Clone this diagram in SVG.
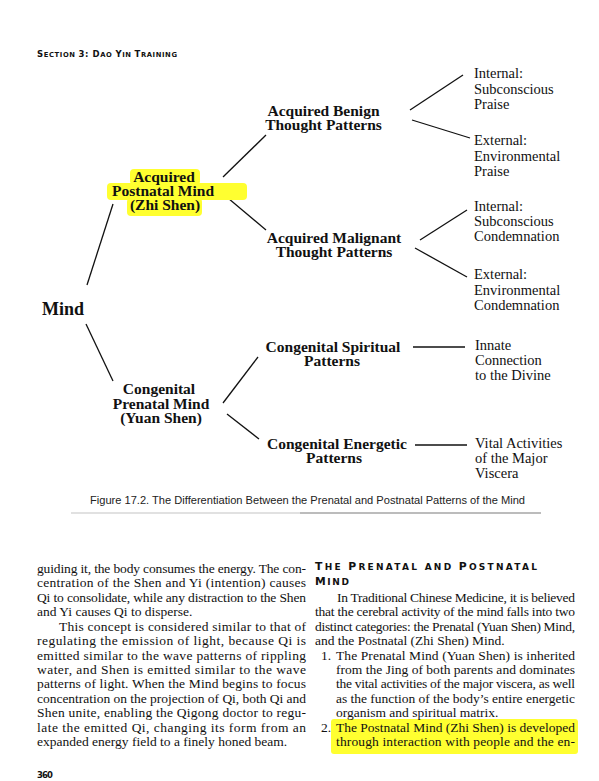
<svg xmlns="http://www.w3.org/2000/svg" width="599" height="781" viewBox="0 0 599 781">
<style>
.b{font-family:"Liberation Serif",serif;font-weight:bold;font-size:15.5px;fill:#111;text-anchor:middle}
.r{font-family:"Liberation Serif",serif;font-size:14.5px;fill:#111}
.t{font-family:"Liberation Serif",serif;font-size:13.5px;fill:#111}
.sc{font-family:"DejaVu Sans","Liberation Sans",sans-serif;font-weight:bold;fill:#111}
.cap{font-family:"Liberation Sans",Arial,sans-serif;font-size:11px;fill:#222}
.ln{stroke:#111;stroke-width:1.3;fill:none}
.hl{fill:#ffff30}
</style>
<rect width="599" height="781" fill="#fff"/>

<g id="page-header">
<text class="sc" x="37" y="57" textLength="140" lengthAdjust="spacing"><tspan font-size="8.5">S</tspan><tspan font-size="6.8">ECTION </tspan><tspan font-size="8.5">3: D</tspan><tspan font-size="6.8">AO </tspan><tspan font-size="8.5">Y</tspan><tspan font-size="6.8">IN </tspan><tspan font-size="8.5">T</tspan><tspan font-size="6.8">RAINING</tspan></text>
</g>

<g id="connectors">
<line class="ln" x1="87" y1="285" x2="113" y2="204"/>
<line class="ln" x1="86" y1="324" x2="113" y2="381"/>
<line class="ln" x1="223" y1="177" x2="266" y2="135"/>
<line class="ln" x1="222" y1="193" x2="266" y2="230"/>
<line class="ln" x1="410" y1="110" x2="463" y2="75"/>
<line class="ln" x1="412" y1="120" x2="470" y2="138"/>
<line class="ln" x1="420" y1="240" x2="467" y2="210"/>
<line class="ln" x1="415" y1="248" x2="467" y2="277"/>
<line class="ln" x1="223" y1="403" x2="258" y2="357"/>
<line class="ln" x1="227" y1="414" x2="259" y2="439"/>
<line class="ln" x1="413" y1="347" x2="465" y2="347"/>
<line class="ln" x1="415" y1="445" x2="467" y2="445"/>
</g>

<g id="mind">
<text class="b" x="42" y="315" style="font-size:18px;text-anchor:start">Mind</text>
</g>

<g id="acquired-postnatal-mind">
<rect class="hl" x="130" y="169" width="70" height="16" rx="4"/>
<rect class="hl" x="107" y="183" width="140" height="17" rx="4"/>
<rect class="hl" x="127" y="198" width="75" height="18" rx="4"/>
<text class="b" x="164" y="182">Acquired</text>
<text class="b" x="163" y="196">Postnatal Mind</text>
<text class="b" x="165" y="210">(Zhi Shen)</text>
</g>

<g id="congenital-prenatal-mind">
<text class="b" x="159" y="394">Congenital</text>
<text class="b" x="161" y="409">Prenatal Mind</text>
<text class="b" x="161" y="423">(Yuan Shen)</text>
</g>

<g id="acquired-benign">
<text class="b" x="323.5" y="116">Acquired Benign</text>
<text class="b" x="323.5" y="130">Thought Patterns</text>
</g>

<g id="acquired-malignant">
<text class="b" x="334" y="243">Acquired Malignant</text>
<text class="b" x="334" y="257">Thought Patterns</text>
</g>

<g id="congenital-spiritual">
<text class="b" x="333" y="352">Congenital Spiritual</text>
<text class="b" x="332" y="366">Patterns</text>
</g>

<g id="congenital-energetic">
<text class="b" x="337" y="449">Congenital Energetic</text>
<text class="b" x="334" y="463">Patterns</text>
</g>

<g id="internal-praise">
<text class="r" x="474" y="78">Internal:</text>
<text class="r" x="474" y="93.5">Subconscious</text>
<text class="r" x="474" y="109">Praise</text>
</g>

<g id="external-praise">
<text class="r" x="474" y="145">External:</text>
<text class="r" x="474" y="161">Environmental</text>
<text class="r" x="474" y="176">Praise</text>
</g>

<g id="internal-condemnation">
<text class="r" x="474" y="210.5">Internal:</text>
<text class="r" x="474" y="226">Subconscious</text>
<text class="r" x="474" y="241">Condemnation</text>
</g>

<g id="external-condemnation">
<text class="r" x="474" y="279">External:</text>
<text class="r" x="474" y="294.5">Environmental</text>
<text class="r" x="474" y="310">Condemnation</text>
</g>

<g id="innate-connection">
<text class="r" x="475" y="350">Innate</text>
<text class="r" x="475" y="365">Connection</text>
<text class="r" x="475" y="380">to the Divine</text>
</g>

<g id="vital-activities">
<text class="r" x="475" y="448">Vital Activities</text>
<text class="r" x="475" y="463">of the Major</text>
<text class="r" x="475" y="478">Viscera</text>
</g>

<g id="caption">
<text class="cap" x="90" y="504" textLength="435" lengthAdjust="spacingAndGlyphs">Figure 17.2. The Differentiation Between the Prenatal and Postnatal Patterns of the Mind</text>
<line x1="71" y1="513" x2="300" y2="513" stroke="#c4c4c4" stroke-width="1.2"/>
<line x1="300" y1="513" x2="541" y2="513" stroke="#7a7a7a" stroke-width="1.2"/>
</g>

<g id="left-column">
<text class="t" x="37" y="573" textLength="269" lengthAdjust="spacing">guiding it, the body consumes the energy. The con-</text>
<text class="t" x="37" y="587.4" textLength="269" lengthAdjust="spacing">centration of the Shen and Yi (intention) causes</text>
<text class="t" x="37" y="601.8" textLength="269" lengthAdjust="spacing">Qi to consolidate, while any distraction to the Shen</text>
<text class="t" x="37" y="616.3">and Yi causes Qi to disperse.</text>
<text class="t" x="59" y="630.7" textLength="247" lengthAdjust="spacing">This concept is considered similar to that of</text>
<text class="t" x="37" y="645.1" textLength="269" lengthAdjust="spacing">regulating the emission of light, because Qi is</text>
<text class="t" x="37" y="659.5" textLength="269" lengthAdjust="spacing">emitted similar to the wave patterns of rippling</text>
<text class="t" x="37" y="673.9" textLength="269" lengthAdjust="spacing">water, and Shen is emitted similar to the wave</text>
<text class="t" x="37" y="688.4" textLength="269" lengthAdjust="spacing">patterns of light. When the Mind begins to focus</text>
<text class="t" x="37" y="702.8" textLength="269" lengthAdjust="spacing">concentration on the projection of Qi, both Qi and</text>
<text class="t" x="37" y="717.2" textLength="269" lengthAdjust="spacing">Shen unite, enabling the Qigong doctor to regu-</text>
<text class="t" x="37" y="731.6" textLength="269" lengthAdjust="spacing">late the emitted Qi, changing its form from an</text>
<text class="t" x="37" y="746">expanded energy field to a finely honed beam.</text>
</g>

<g id="right-column">
<rect class="hl" x="331" y="719" width="247" height="35" rx="3"/>
<text class="sc" x="315" y="570" textLength="222" lengthAdjust="spacing"><tspan font-size="10.8">T</tspan><tspan font-size="9">HE </tspan><tspan font-size="10.8">P</tspan><tspan font-size="9">RENATAL AND </tspan><tspan font-size="10.8">P</tspan><tspan font-size="9">OSTNATAL</tspan></text>
<text class="sc" x="315" y="585" textLength="34" lengthAdjust="spacing"><tspan font-size="10.8">M</tspan><tspan font-size="9">IND</tspan></text>
<text class="t" x="337" y="601.8" textLength="238" lengthAdjust="spacing">In Traditional Chinese Medicine, it is believed</text>
<text class="t" x="315" y="616.3" textLength="260" lengthAdjust="spacing">that the cerebral activity of the mind falls into two</text>
<text class="t" x="315" y="630.7" textLength="260" lengthAdjust="spacing">distinct categories: the Prenatal (Yuan Shen) Mind,</text>
<text class="t" x="315" y="645.1">and the Postnatal (Zhi Shen) Mind.</text>
<text class="t" x="321" y="659.5">1.</text>
<text class="t" x="336" y="659.5" textLength="239" lengthAdjust="spacing">The Prenatal Mind (Yuan Shen) is inherited</text>
<text class="t" x="336" y="673.9" textLength="239" lengthAdjust="spacing">from the Jing of both parents and dominates</text>
<text class="t" x="336" y="688.4" textLength="239" lengthAdjust="spacing">the vital activities of the major viscera, as well</text>
<text class="t" x="336" y="702.8" textLength="239" lengthAdjust="spacing">as the function of the body’s entire energetic</text>
<text class="t" x="336" y="717.2">organism and spiritual matrix.</text>
<text class="t" x="321" y="731.6">2.</text>
<text class="t" x="336" y="731.6" textLength="239" lengthAdjust="spacing">The Postnatal Mind (Zhi Shen) is developed</text>
<text class="t" x="336" y="746" textLength="239" lengthAdjust="spacing">through interaction with people and the en-</text>
</g>

<g id="page-number">
<text class="sc" x="37" y="778" font-size="8.5" textLength="16" lengthAdjust="spacing">360</text>
</g>
</svg>
